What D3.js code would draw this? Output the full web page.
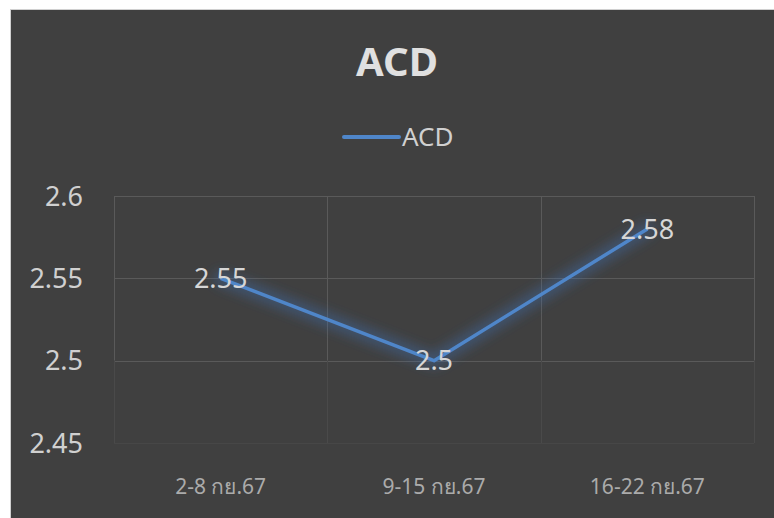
<!DOCTYPE html>
<html>
<head>
<meta charset="utf-8">
<script src="https://cdn.jsdelivr.net/npm/d3@7"></script>
<style>
  body { margin: 0; background: #fff; }
  text { font-family: "Noto Sans", "Open Sans", sans-serif; }
</style>
</head>
<body>
<div id="chart"></div>
<script>
const categories = ['2-8 กย.67', '9-15 กย.67', '16-22 กย.67'];
const acdValues = [2.55, 2.5, 2.58];
const yTicks = [2.45, 2.5, 2.55, 2.6];
const seriesName = 'ACD';

const width = 774;
const height = 518;
const plot = {left: 114, right: 754, top: 196, bottom: 443};

const svg = d3.select('#chart')
  .append('svg')
  .attr('width', width)
  .attr('height', height);

// soft glow behind the line
const defs = svg.append('defs');
const glow = defs.append('filter')
  .attr('id', 'glow')
  .attr('x', '-20%').attr('y', '-50%')
  .attr('width', '140%').attr('height', '200%');
glow.append('feGaussianBlur')
  .attr('stdDeviation', 6);

// chart background
svg.append('rect')
  .attr('x', 10.5)
  .attr('y', 9.5)
  .attr('width', width)
  .attr('height', height)
  .attr('fill', '#404040')
  .attr('stroke', '#d0d0d0')
  .attr('stroke-width', 1);

const x = d3.scaleBand()
  .domain(categories)
  .range([plot.left, plot.right]);

const y = d3.scaleLinear()
  .domain([2.45, 2.6])
  .range([plot.bottom, plot.top]);

const grid = svg.append('g').attr('class', 'grid');

// horizontal gridlines
grid.selectAll('line.h')
  .data(yTicks)
  .enter().append('line')
    .attr('class', 'h')
    .attr('x1', plot.left)
    .attr('x2', plot.right)
    .attr('y1', d => Math.round(y(d)) + 0.5)
    .attr('y2', d => Math.round(y(d)) + 0.5)
    .attr('stroke', d => d === 2.45 ? '#474747' : '#5a5a5a')
    .attr('stroke-width', 1);

// vertical gridlines (upper part brighter, lower part faded)
const xEdges = categories.map(c => x(c)).concat([plot.right]);
grid.selectAll('line.v')
  .data(xEdges)
  .enter().append('line')
    .attr('class', 'v')
    .attr('x1', d => Math.round(d) + 0.5)
    .attr('x2', d => Math.round(d) + 0.5)
    .attr('y1', plot.top)
    .attr('y2', y(2.5))
    .attr('stroke', '#5a5a5a');
grid.selectAll('line.vl')
  .data(xEdges)
  .enter().append('line')
    .attr('class', 'vl')
    .attr('x1', d => Math.round(d) + 0.5)
    .attr('x2', d => Math.round(d) + 0.5)
    .attr('y1', y(2.5))
    .attr('y2', plot.bottom)
    .attr('stroke', '#4a4a4a');

// y axis labels
svg.append('g')
  .selectAll('text')
  .data(yTicks)
  .enter().append('text')
    .attr('x', 83)
    .attr('y', d => y(d))
    .attr('dy', '0.36em')
    .attr('text-anchor', 'end')
    .attr('font-size', 27)
    .attr('fill', '#d0d0d0')
    .text(d => d3.format('')(d));

// x axis labels
svg.append('g')
  .selectAll('text')
  .data(categories)
  .enter().append('text')
    .attr('x', d => x(d) + x.bandwidth() / 2)
    .attr('y', 494)
    .attr('text-anchor', 'middle')
    .attr('font-family', '"Liberation Sans Narrow", "Liberation Sans", sans-serif')
    .attr('font-size', 21)
    .attr('fill', '#ababab')
    .text(d => d);

const line = d3.line()
  .x((d, i) => x(categories[i]) + x.bandwidth() / 2)
  .y(d => y(d));

svg.append('path')
  .datum(acdValues)
  .attr('d', line)
  .attr('fill', 'none')
  .attr('stroke', '#3f74b8')
  .attr('stroke-width', 14)
  .attr('stroke-opacity', 0.4)
  .attr('stroke-linecap', 'round')
  .attr('filter', 'url(#glow)');

svg.append('path')
  .datum(acdValues)
  .attr('d', line)
  .attr('fill', 'none')
  .attr('stroke', '#4f86c9')
  .attr('stroke-width', 3.5)
  .attr('stroke-linejoin', 'round');

// data labels
svg.append('g')
  .selectAll('text')
  .data(acdValues)
  .enter().append('text')
    .attr('x', (d, i) => x(categories[i]) + x.bandwidth() / 2)
    .attr('y', d => y(d))
    .attr('dy', '0.36em')
    .attr('text-anchor', 'middle')
    .attr('font-size', 27)
    .attr('fill', '#d6d6d6')
    .text(d => d);

// title
svg.append('text')
  .attr('x', 397)
  .attr('y', 76)
  .attr('text-anchor', 'middle')
  .attr('font-size', 40)
  .attr('font-weight', 'bold')
  .attr('fill', '#e0e0e0')
  .text(seriesName);

// legend
const legend = svg.append('g');
legend.append('line')
  .attr('x1', 344)
  .attr('x2', 399)
  .attr('y1', 137)
  .attr('y2', 137)
  .attr('stroke', '#4f86c9')
  .attr('stroke-width', 4)
  .attr('stroke-linecap', 'round');
legend.append('text')
  .attr('x', 402)
  .attr('y', 146)
  .attr('font-size', 26)
  .attr('fill', '#d0d0d0')
  .text(seriesName);
</script>
</body>
</html>
